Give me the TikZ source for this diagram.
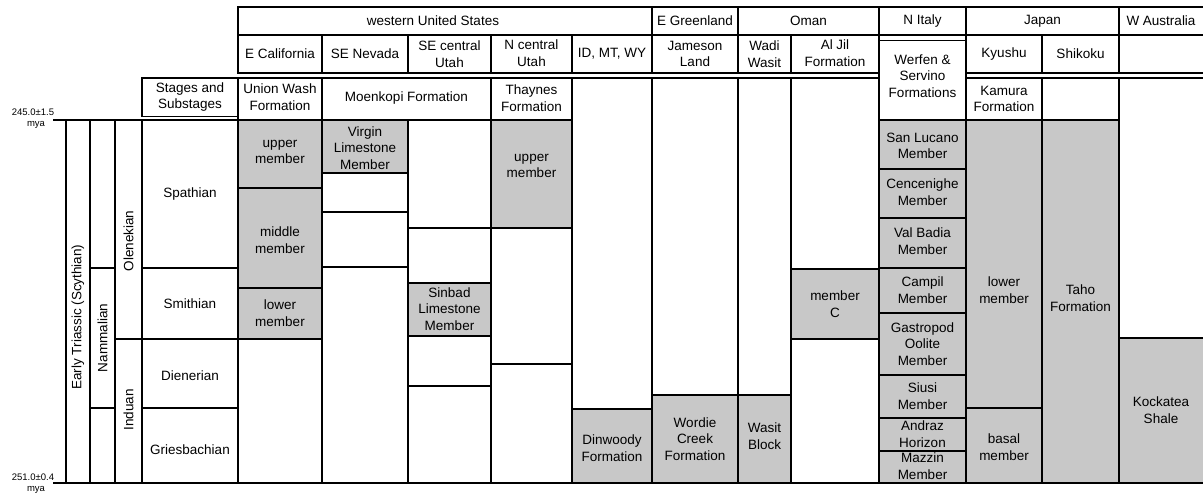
\documentclass[tikz,border=0pt]{standalone}
\usepackage{fontspec}
\setmainfont{Liberation Sans}
\definecolor{cellgray}{RGB}{200,200,200}
\tikzset{
  cell/.style={draw=black, line width=1.1pt},
  shaded/.style={cell, fill=cellgray},
  lab/.style={font=\fontsize{13.5}{16.5}\selectfont, align=center, inner sep=0pt},
  smalllab/.style={font=\fontsize{9.5}{11}\selectfont, inner sep=0pt},
  vlab/.style={lab, rotate=90},
}
\begin{document}
\begin{tikzpicture}[x=1pt,y=-1pt]
\useasboundingbox (0,0) rectangle (1203,494);
\clip (0,0) rectangle (1203,494);
\fill[white] (0,0) rectangle (1203,494);

% ---------- header row 1 ----------
\draw[cell] (238,7) rectangle (652,35);
\draw[cell] (652,7) rectangle (738,35);
\draw[cell] (738,7) rectangle (879,35);
\draw[cell] (879,7) rectangle (966,35);
\draw[cell] (966,7) rectangle (1119,35);
\draw[cell] (1119,7) rectangle (1215,35);

% ---------- header row 2 ----------
\foreach \a/\b in {238/322,322/408,408/491,491/572,572/652,652/738,738/791,791/879,966/1042,1042/1119,1119/1215}
  \draw[cell] (\a,35) rectangle (\b,73);
\draw[cell] (879,35) rectangle (966,40.5);
\draw[cell] (879,40.5) rectangle (966,120);

% ---------- header row 3 ----------
\draw[cell] (142,78) rectangle (238,116.5);
\draw[cell] (238,78) rectangle (322,120);
\draw[cell] (322,78) rectangle (491,120);
\draw[cell] (491,78) rectangle (572,120);
\draw[cell] (966,78) rectangle (1042,120);
\draw[cell] (1042,78) rectangle (1119,120);

% ---------- time lines ----------
\draw[cell] (53,120) -- (572,120);
\draw[cell] (879,120) -- (1119,120);
\draw[cell] (53,483) -- (1215,483);

% ---------- left columns ----------
\draw[cell] (66,120) rectangle (90,483);
\draw[cell] (90,120) rectangle (115,268);
\draw[cell] (90,268) rectangle (115,408);
\draw[cell] (90,408) rectangle (115,483);
\draw[cell] (115,120) rectangle (142,339);
\draw[cell] (115,339) rectangle (142,483);
\draw[cell] (142,120) rectangle (238,268);
\draw[cell] (142,268) rectangle (238,339);
\draw[cell] (142,339) rectangle (238,408);
\draw[cell] (142,408) rectangle (238,483);

% ---------- E California ----------
\draw[shaded] (238,120) rectangle (322,188);
\draw[shaded] (238,188) rectangle (322,288);
\draw[shaded] (238,288) rectangle (322,339);
\draw[cell] (238,339) rectangle (322,483);

% ---------- SE Nevada ----------
\draw[shaded] (322,120) rectangle (408,173);
\draw[cell] (322,173) rectangle (408,212);
\draw[cell] (322,212) rectangle (408,267);
\draw[cell] (322,267) rectangle (408,483);

% ---------- SE central Utah ----------
\draw[cell] (408,120) rectangle (491,228);
\draw[cell] (408,228) rectangle (491,283);
\draw[shaded] (408,283) rectangle (491,336);
\draw[cell] (408,336) rectangle (491,386);
\draw[cell] (408,386) rectangle (491,483);

% ---------- N central Utah ----------
\draw[shaded] (491,120) rectangle (572,228);
\draw[cell] (491,228) rectangle (572,364);
\draw[cell] (491,364) rectangle (572,483);

% ---------- ID MT WY ----------
\draw[cell] (572,78) rectangle (652,409);
\draw[shaded] (572,409) rectangle (652,483);

% ---------- Jameson Land ----------
\draw[cell] (652,78) rectangle (738,395);
\draw[shaded] (652,395) rectangle (738,483);

% ---------- Wadi Wasit ----------
\draw[cell] (738,78) rectangle (791,395);
\draw[shaded] (738,395) rectangle (791,483);

% ---------- Al Jil ----------
\draw[cell] (791,78) rectangle (879,269);
\draw[shaded] (791,269) rectangle (879,339);
\draw[cell] (791,339) rectangle (879,483);

% ---------- N Italy ----------
\foreach \a/\b in {120/169,169/218,218/268,268/313,313/375,375/418,418/451,451/483}
  \draw[shaded] (879,\a) rectangle (966,\b);

% ---------- Japan ----------
\draw[shaded] (966,120) rectangle (1042,408);
\draw[shaded] (966,408) rectangle (1042,483);
\draw[shaded] (1042,120) rectangle (1119,483);

% ---------- W Australia ----------
\draw[cell] (1119,78) rectangle (1215,338);
\draw[shaded] (1119,338) rectangle (1215,483);

% ---------- texts: header ----------
\node[lab] (hwus) at (433,21) {western United States};
\node[lab] (hegr) at (695,21) {E Greenland};
\node[lab] (homan) at (808.5,21) {Oman};
\node[lab] (hital) at (922.5,21) {N Italy};
\node[lab] (hjap) at (1042.5,21) {Japan};
\node[lab] (hwau) at (1161,21) {W Australia};

\node[lab] (ecal) at (280,54) {E California};
\node[lab] (senv) at (365,54) {SE Nevada};
\node[lab] (secu) at (449.5,54) {SE central\\Utah};
\node[lab] (ncu) at (531.5,53) {N central\\Utah};
\node[lab] (idmt) at (612,54) {ID, MT, WY};
\node[lab] (jam) at (695,54) {Jameson\\Land};
\node[lab] (wadi) at (764.5,54) {Wadi\\Wasit};
\node[lab] (aljil) at (835,53) {Al Jil\\Formation};
\node[lab] (kyu) at (1004,54) {Kyushu};
\node[lab] (shi) at (1080.5,54) {Shikoku};

\node[lab] (stages) at (190,97) {Stages and\\Substages};
\node[lab] (union) at (280,97) {Union Wash\\Formation};
\node[lab] (moen) at (406.5,98) {Moenkopi Formation};
\node[lab] (thay) at (531.5,98) {Thaynes\\Formation};
\node[lab] (werf) at (922.5,76) {Werfen \&\\Servino\\Formations};
\node[lab] (kam) at (1004,99) {Kamura\\Formation};

% ---------- ages ----------
\node[smalllab] (agetop) at (33,112) {245.0±1.5};
\node[smalllab] (myatop) at (36,125) {mya};
\node[smalllab] (agebot) at (33,477) {251.0±0.4};
\node[smalllab] (myabot) at (36,490) {mya};

% ---------- left column texts ----------
\node[vlab] (early) at (78,317) {Early Triassic (Scythian)};
\node[vlab] (namm) at (102.5,338) {Nammalian};
\node[vlab] (olen) at (128.5,241) {Olenekian};
\node[vlab] (indu) at (128.5,410) {Induan};

\node[lab] (spath) at (190,194) {Spathian};
\node[lab] (smith) at (190,304) {Smithian};
\node[lab] (dien) at (190,376) {Dienerian};
\node[lab] (gries) at (190,450) {Griesbachian};

% ---------- formation texts ----------
\node[lab] (ecup) at (280,152) {upper\\member};
\node[lab] (ecmid) at (280,240) {middle\\member};
\node[lab] (eclow) at (280,313) {lower\\member};
\node[lab] (virg) at (365,148) {Virgin\\Limestone\\Member};
\node[lab] (sinb) at (449.5,309) {Sinbad\\Limestone\\Member};
\node[lab] (ncup) at (531.5,166) {upper\\member};
\node[lab] (dinw) at (612,448) {Dinwoody\\Formation};
\node[lab] (word) at (695,439) {Wordie\\Creek\\Formation};
\node[lab] (wasit) at (764.5,436) {Wasit\\Block};
\node[lab] (memc) at (835,304) {member\\C};

\node[lab] (sanl) at (922.5,146) {San Lucano\\Member};
\node[lab] (cenc) at (922.5,192) {Cencenighe\\Member};
\node[lab] (valb) at (922.5,241) {Val Badia\\Member};
\node[lab] (camp) at (922.5,290) {Campil\\Member};
\node[lab] (gast) at (922.5,344) {Gastropod\\Oolite\\Member};
\node[lab] (siusi) at (922.5,396) {Siusi\\Member};
\node[lab] (andr) at (922.5,434) {Andraz\\Horizon};
\node[lab] (mazz) at (922.5,466) {Mazzin\\Member};

\node[lab] (kylow) at (1004,290) {lower\\member};
\node[lab] (kybas) at (1004,447) {basal\\member};
\node[lab] (taho) at (1080.5,298) {Taho\\Formation};
\node[lab] (kock) at (1161,410) {Kockatea\\Shale};
\end{tikzpicture}
\end{document}
